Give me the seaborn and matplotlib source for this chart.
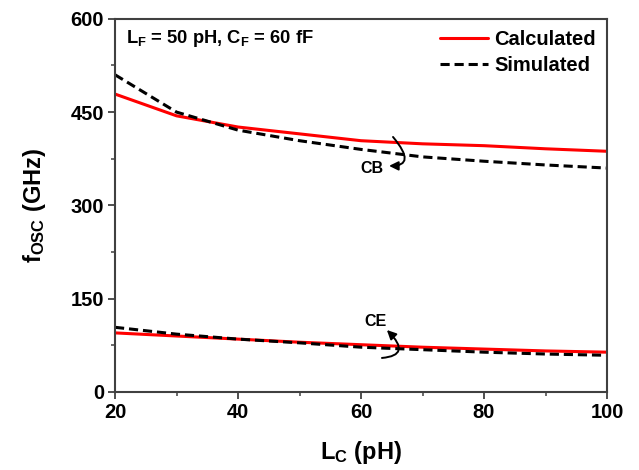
import matplotlib
matplotlib.use("Agg")
import matplotlib.pyplot as plt
import seaborn as sns
import pandas as pd
from matplotlib.lines import Line2D
from matplotlib.ticker import MultipleLocator

# Collector inductance sweep (pH)
lc = [20, 30, 40, 50, 60, 70, 80, 90, 100]

# Oscillation frequency (GHz), common-base configuration
cb_calculated = [479, 444, 426, 415, 404, 399, 396, 391, 387]
cb_simulated = [510, 450, 421, 404, 390, 378, 371, 365, 360]

# Oscillation frequency (GHz), common-emitter configuration
ce_calculated = [95, 90, 85, 80, 76, 72, 69, 66, 64]
ce_simulated = [104, 93, 85, 79, 72, 68, 64, 61, 59]

series_names = ["Calculated", "Simulated"]
x_ticks = [20, 40, 60, 80, 100]
y_ticks = [0, 150, 300, 450, 600]

rows = []
for cfg, calc, sim in (("CB", cb_calculated, cb_simulated),
                       ("CE", ce_calculated, ce_simulated)):
    for name, vals in zip(series_names, (calc, sim)):
        for x, y in zip(lc, vals):
            rows.append({"Lc": x, "f": y, "series": name, "cfg": cfg})
df = pd.DataFrame(rows)

sns.set_theme(style="ticks")
plt.rcParams["font.family"] = ["Liberation Sans", "DejaVu Sans"]
plt.rcParams["font.weight"] = "bold"
plt.rcParams["mathtext.default"] = "regular"
plt.rcParams["text.color"] = "black"
plt.rcParams["axes.labelcolor"] = "black"

fig = plt.figure(figsize=(6.39, 4.70), dpi=100)
ax = fig.add_axes([0.180, 0.166, 0.770, 0.794])

dash_pat = (3.0, 1.6)
palette = {"Calculated": "#ff0000", "Simulated": "#000000"}
dashes = {"Calculated": "", "Simulated": dash_pat}
for cfg in ("CB", "CE"):
    sub = df[df["cfg"] == cfg]
    sns.lineplot(data=sub, x="Lc", y="f", hue="series", style="series",
                 palette=palette, dashes=dashes, estimator=None,
                 legend=False, ax=ax, linewidth=2.2)

ax.set_xlim(20, 100)
ax.set_ylim(0, 600)
ax.set_xticks(x_ticks)
ax.set_yticks(y_ticks)
ax.xaxis.set_minor_locator(MultipleLocator(10))
ax.yaxis.set_minor_locator(MultipleLocator(75))

spine_color = "#404040"
for s in ax.spines.values():
    s.set_color(spine_color)
    s.set_linewidth(1.5)
ax.tick_params(axis="both", which="major", direction="out", length=5,
               width=1.3, color=spine_color, labelcolor="black",
               labelsize=14.5, pad=3)
ax.tick_params(axis="both", which="minor", direction="out", length=3,
               width=1.1, color=spine_color)
for lab in ax.get_xticklabels() + ax.get_yticklabels():
    lab.set_fontweight("bold")

ax.set_xlabel("L$_C$ (pH)", fontsize=17, fontweight="bold", labelpad=12)
ax.set_ylabel("f$_{OSC}$ (GHz)", fontsize=17, fontweight="bold", labelpad=16)

ax.text(0.022, 0.975, "L$_F$ = 50 pH, C$_F$ = 60 fF", transform=ax.transAxes,
        fontsize=13.2, fontweight="bold", va="top", ha="left")

handles = [Line2D([], [], color="#ff0000", lw=2.2),
           Line2D([], [], color="#000000", lw=2.2, dashes=dash_pat)]
ax.legend(handles, series_names, loc="upper right", frameon=False,
          prop={"weight": "bold", "size": 14.5}, handlelength=2.4,
          handletextpad=0.3, labelspacing=0.35, borderaxespad=0.25,
          borderpad=0.3)

arrow_kw = dict(arrowstyle="-|>,head_length=0.45,head_width=0.22",
                color="black", lw=1.4, shrinkA=0, shrinkB=0)
ax.text(61.8, 359, "CB", fontsize=11.5, fontweight="bold", ha="center", va="center")
ax.annotate("", xy=(64.55, 363.5), xytext=(65.2, 410),
            arrowprops=dict(connectionstyle="angle3,angleA=-50,angleB=0", **arrow_kw))
ax.text(62.3, 114, "CE", fontsize=11.5, fontweight="bold", ha="center", va="center")
ax.annotate("", xy=(64.2, 99.7), xytext=(63.4, 54.7),
            arrowprops=dict(connectionstyle="angle3,angleA=5,angleB=-45", **arrow_kw))

fig.savefig("out.png", dpi=100)
